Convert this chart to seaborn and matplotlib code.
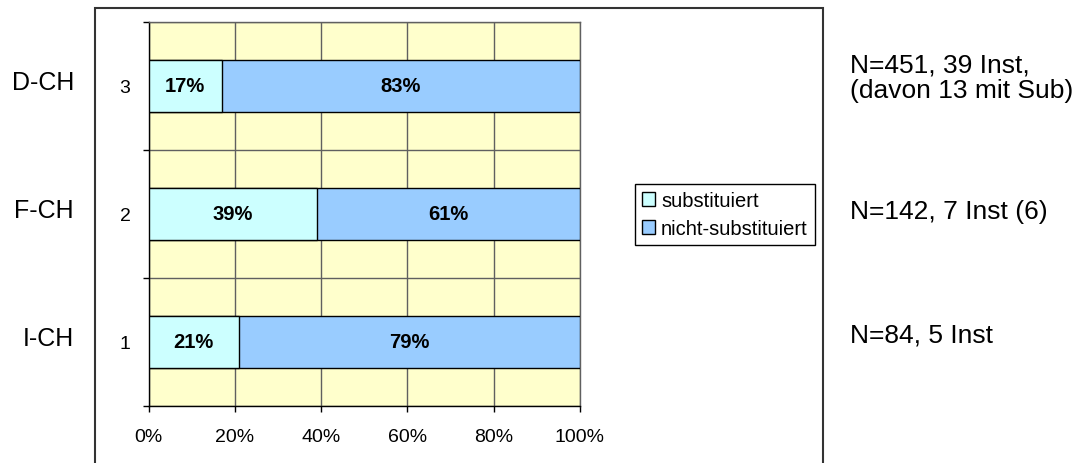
import pandas as pd
import matplotlib.pyplot as plt
import seaborn as sns
from matplotlib.patches import Rectangle
from matplotlib.transforms import blended_transform_factory

# data
categories = ['3', '2', '1']                 # top to bottom
regions = ['D-CH', 'F-CH', 'I-CH']
substituiert = [17, 39, 21]
nicht_substituiert = [83, 61, 79]
notes = ['N=451, 39 Inst,\n(davon 13 mit Sub)', 'N=142, 7 Inst (6)', 'N=84, 5 Inst']
x_ticks = [0, 20, 40, 60, 80, 100]

df = pd.DataFrame({
    'cat': categories,
    'sub': substituiert,
    'nicht': nicht_substituiert,
})
df['total'] = df['sub'] + df['nicht']

sns.set_theme(style='white', rc={'text.color': 'black', 'xtick.color': 'black',
                                 'ytick.color': 'black', 'axes.labelcolor': 'black'})
plt.rcParams['font.family'] = ['Liberation Sans', 'DejaVu Sans']

W, H = 1080, 464
fig = plt.figure(figsize=(W / 100, H / 100), dpi=100)
ax = fig.add_axes([148.5 / W, 1 - 407 / H, (580 - 148.5) / W, (407 - 23) / H])
ax.set_facecolor('#FFFFCC')

# stacked bars: full bar in blue, substituted share drawn over it
sns.barplot(data=df, x='total', y='cat', order=categories, orient='h',
            color='#99CCFF', edgecolor='black', linewidth=1, width=0.4,
            saturation=1, label='nicht-substituiert', ax=ax, zorder=3)
sns.barplot(data=df, x='sub', y='cat', order=categories, orient='h',
            color='#CCFFFF', edgecolor='black', linewidth=1, width=0.4,
            saturation=1, label='substituiert', ax=ax, zorder=4)

# percentage labels in the segments
for i, (s, n) in enumerate(zip(df['sub'], df['nicht'])):
    ax.text(s / 2, i, f'{s}%', ha='center', va='center', color='black',
            fontsize=14.5, fontweight='bold', zorder=5)
    ax.text(s + n / 2, i, f'{n}%', ha='center', va='center', color='black',
            fontsize=14.5, fontweight='bold', zorder=5)

# axes
ax.set_xlim(0, 100)
ax.set_ylim(len(categories) - 0.5, -0.5)
ax.set_xticks(x_ticks)
ax.set_xticklabels([f'{t}%' for t in x_ticks])
ax.set_yticks([i + 0.5 for i in range(-1, len(categories))])
ax.set_yticklabels([])
ax.set_yticks(range(len(categories)), minor=True)
ax.set_yticklabels(categories, minor=True)
ax.set_xlabel('')
ax.set_ylabel('')

ax.tick_params(axis='x', which='major', direction='out', length=4, width=1,
               color='black', labelcolor='black', bottom=True, labelsize=14, pad=12)
ax.tick_params(axis='y', which='major', direction='out', length=4, width=1,
               color='black', left=True)
ax.tick_params(axis='y', which='minor', length=0, labelsize=14, pad=13,
               labelcolor='black')

ax.grid(True, axis='x', color='#606060', linewidth=1, zorder=1)
ax.grid(True, axis='y', which='major', color='#606060', linewidth=1, zorder=1)
ax.set_axisbelow(True)

for side in ['left', 'bottom']:
    ax.spines[side].set_color('black')
    ax.spines[side].set_linewidth(1)
for side in ['top', 'right']:
    ax.spines[side].set_color('#606060')
    ax.spines[side].set_linewidth(1)

# legend (substituiert first)
handles, labels = ax.get_legend_handles_labels()
order = [labels.index('substituiert'), labels.index('nicht-substituiert')]
if ax.get_legend():
    ax.get_legend().remove()
leg = fig.legend([handles[k] for k in order], [labels[k] for k in order],
                 loc='center left', bbox_to_anchor=(635 / W, 1 - 215.5 / H),
                 fontsize=14.5, frameon=True, fancybox=False, framealpha=1,
                 edgecolor='black', handlelength=0.65, handleheight=0.65,
                 handletextpad=0.3, labelspacing=0.45, borderpad=0.35,
                 borderaxespad=0)
leg.get_frame().set_linewidth(1)
for t in leg.get_texts():
    t.set_color('black')

# region names on the left
trans = blended_transform_factory(fig.transFigure, ax.transData)
for i, r in enumerate(regions):
    ax.text(74 / W, i - 0.03, r, transform=trans, ha='right', va='center',
            fontsize=18, color='black')

# notes on the right
for i, note in enumerate(notes):
    off = [-0.07, -0.02, -0.06][i]
    ax.text(850 / W, i + off, note, transform=trans, ha='left', va='center',
            fontsize=19, linespacing=1.05, color='black')

# outer chart border (bottom edge runs off the image)
fig.patches.append(Rectangle((95 / W, -0.05), (823 - 95) / W, 1.05 - 9 / H,
                             transform=fig.transFigure, fill=False,
                             edgecolor='#333333', linewidth=1.5))

fig.savefig('out.png', dpi=100)
